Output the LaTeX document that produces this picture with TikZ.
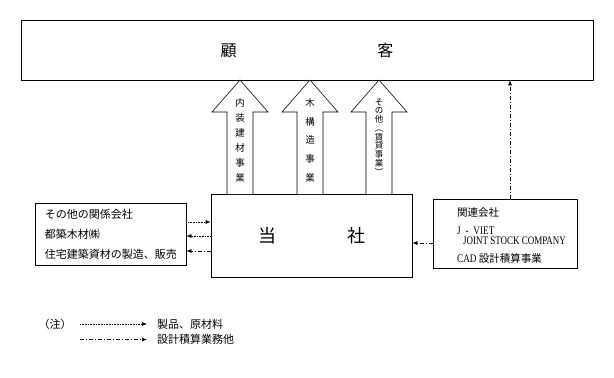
\documentclass[tikz,border=0pt]{standalone}
\usepackage{fontspec}
\usepackage{graphicx}
\setmainfont{Noto Sans CJK JP}
\newfontfamily\latinfont{Liberation Serif}
\usetikzlibrary{arrows.meta,calc}
\tikzset{
  box/.style={draw, line width=0.8pt, inner sep=0pt},
  bizarrow/.style={draw, line width=0.6pt, fill=white, line join=miter},
  flow/.style={-{Latex[length=5pt,width=4pt]}, line width=0.6pt},
  goods/.style={flow, dash pattern=on 0.8pt off 0.8pt},
  service/.style={flow, dash pattern=on 4pt off 2pt on 1pt off 2pt},
  vtext/.style={align=center, inner sep=0pt, anchor=north},
  key/.style={anchor=west, inner sep=0pt, font=\fontsize{11}{11}\selectfont},
}
\newcommand{\narrowlatin}[2]{{\latinfont\fontsize{11.5}{11.5}\selectfont\scalebox{#1}[1]{#2}}}

\begin{document}
\begin{tikzpicture}[x=1pt, y=-1pt]
  \useasboundingbox (0,0) rectangle (614,378);

  %% customers and company
  \node[box, minimum width=572pt, minimum height=60pt,
        font=\fontsize{16}{16}\selectfont] (customer) at (307,50) {顧\hspace{141pt}客};
  \node[box, minimum width=201pt, minimum height=83pt,
        font=\fontsize{18}{18}\selectfont] (company) at (311.5,235.5) {当\hspace{71pt}社};

  %% business lines
  \foreach \x in {240,310,379} {
    \draw[bizarrow] (\x-13,194) -- (\x-13,112) -- (\x-28,112) -- (\x,80)
      -- (\x+28,112) -- (\x+13,112) -- (\x+13,194);
  }
  \node[vtext, font=\fontsize{9.5}{15}\selectfont] (interior) at (240,98.3) {内\\装\\建\\材\\事\\業};
  \node[vtext, font=\fontsize{9.5}{18.75}\selectfont] (timber) at (310,98.3) {木\\構\\造\\事\\業};
  \node[vtext, font=\fontsize{8.5}{8.75}\selectfont] (rental) at (379,98.5) {そ\\の\\他\\︵\\賃\\貸\\事\\業\\︶};

  %% affiliates
  \node[box, minimum width=151pt, minimum height=62pt, text width=131pt, inner xsep=10pt,
        align=left, font=\fontsize{11}{20}\selectfont] (partner) at (110.5,234) {%
    その他の関係会社\\都築木材㈱\\住宅建築資材の製造、販売};
  \node[box, minimum width=144pt, minimum height=69pt] (viet) at (505,233.5) {};
  \node[anchor=north west, align=left, inner sep=0pt,
        font=\fontsize{10.5}{18}\selectfont] (viettext) at (457,207) {%
    関連会社\\
    \narrowlatin{0.8}{J\hspace{6pt}-\hspace{6pt}VIET}\\[-8pt]
    \hspace*{6pt}\narrowlatin{0.78}{JOINT STOCK COMPANY}\\
    \narrowlatin{0.8}{CAD} 設計積算事業};

  \draw[goods] (partner.east |- 0,222) -- (company.west |- 0,222);
  \draw[goods] (company.west |- 0,236) -- (partner.east |- 0,236);
  \draw[service] (company.west |- 0,251) -- (partner.east |- 0,251);
  \draw[service] (viet.west |- 0,243) -- (company.east |- 0,243);
  \draw[service] (510,0 |- viet.north) -- (510,0 |- customer.south);

  %% legend
  \node[font=\fontsize{11}{11}\selectfont] (note) at (55,324) {（注）};
  \coordinate (goodsstart) at (80,324);
  \coordinate (servicestart) at (80,339.5);
  \node[key] (goodskey) at (157,324) {製品、原材料};
  \node[key] (servicekey) at (157,339.5) {設計積算業務他};
  \draw[goods] (goodsstart) -- ([xshift=-10pt]goodskey.west);
  \draw[service] (servicestart) -- ([xshift=-10pt]servicekey.west);
\end{tikzpicture}
\end{document}
